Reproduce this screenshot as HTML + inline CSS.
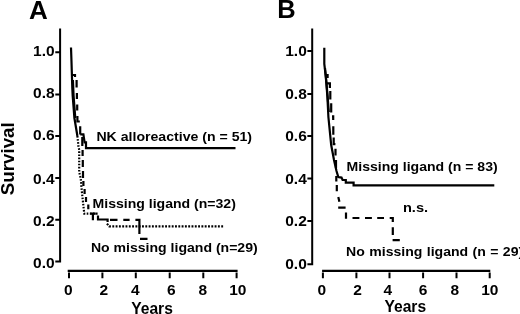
<!DOCTYPE html>
<html><head><meta charset="utf-8"><title>Survival</title>
<style>
html,body{margin:0;padding:0;background:#fff;}
svg{display:block;}
text{font-family:"Liberation Sans",Arial,sans-serif;font-weight:bold;fill:#000;}
.ax{stroke:#000;stroke-width:2;fill:none;stroke-linecap:butt;}
.cv{stroke:#000;stroke-width:2.2;fill:none;stroke-linejoin:miter;}
.tk{font-size:15.5px;}
.lg{font-size:13.8px;}
</style></head>
<body>
<svg width="520" height="314" viewBox="0 0 520 314">
<rect width="520" height="314" fill="#fff"/>

<!-- ===== Panel A ===== -->
<text x="28.9" y="18.8" font-size="26">A</text>
<text transform="translate(14.2,195.2) rotate(-90) scale(1.06,1)" font-size="17.7">Survival</text>
<!-- y axis -->
<path class="ax" d="M60.1 28.5V262.6M61.1 261.6H55.3M55.3 52.3H60M55.3 94.4H60M55.3 135.9H60M55.3 177.9H60M55.3 219.8H60"/>
<g class="tk" text-anchor="end">
<text x="54.6" y="55.9">1.0</text>
<text x="54.6" y="98.3">0.8</text>
<text x="54.6" y="140.2">0.6</text>
<text x="54.6" y="183.5">0.4</text>
<text x="54.6" y="225.7">0.2</text>
<text x="54.6" y="268">0.0</text>
</g>
<!-- x axis -->
<path class="ax" style="stroke-width:2.2" d="M67.7 270.8H237.6"/>
<path class="ax" d="M69 272.6V278.2M102.4 272.6V278.2M135.8 272.6V278.2M169.7 272.6V278.2M203.3 272.6V278.2M236.6 272.6V278.2"/>
<g class="tk" text-anchor="middle">
<text x="68.3" y="294.6">0</text>
<text x="103.9" y="294.6">2</text>
<text x="135.2" y="294.6">4</text>
<text x="171.3" y="294.6">6</text>
<text x="202.9" y="294.6">8</text>
<text x="237.8" y="294.6">10</text>
<text x="152" y="313.8" font-size="15.6">Years</text>
</g>
<!-- solid curve -->
<path class="cv" d="M71 47.5L71.5 62L72.3 88L72.7 96L74.4 118L77.4 136M80.2 134.4H83.4L84.6 142.4H86V148.1H235.5"/>
<path class="cv" d="M72.9 80L73.6 96L75.3 118"/>
<!-- dashed curve A -->
<path class="cv" d="M72 75H75V77M76.6 80V87.4M76.9 93V99M77.2 104.5V110.4M77.4 116V121.5H79.8M80.2 126.2V134.4M82.3 137V146M82.6 150V156M82.8 160V167M83 171V178M83.4 181V186M84.6 189V194M86 197V202M88.3 204.6V209.2M92.9 213.7V220.2M90.4 213.7H95.8M98 215.4V219.5H107.6V222M110 219.8H117.5M123.3 219.8H129.6M135.4 219.8H139.4V234M140 238.8H147.5"/>
<!-- dotted curve A -->
<path class="cv" stroke-dasharray="1.6 1.5" d="M77.4 136L78.4 146L79.2 150V172L80.8 179L81.8 191L83.2 204L84.3 213.7H99"/>
<path class="cv" stroke-dasharray="1.9 1.4" d="M107 223.6L109.2 226.3H224"/>
<g class="lg">
<text transform="translate(96.4,140.5) scale(1.07,1)" font-size="13.2">NK alloreactive (n = 51)</text>
<text transform="translate(92.6,208.2) scale(1.065,1)" font-size="13.2">Missing ligand (n=32)</text>
<text transform="translate(90.9,251.8) scale(1.067,1)" font-size="13.2">No missing ligand (n=29)</text>
</g>

<!-- ===== Panel B ===== -->
<text x="277.3" y="17.9" font-size="25.5">B</text>
<path class="ax" d="M312.2 28.5V265.3M313.2 264.3H307.4M307.4 51H312M307.4 93.9H312M307.4 135.9H312M307.4 178.4H312M307.4 221.1H312"/>
<g class="tk" text-anchor="end">
<text x="306.8" y="56.4">1.0</text>
<text x="306.8" y="98.5">0.8</text>
<text x="306.8" y="140.6">0.6</text>
<text x="306.8" y="183.7">0.4</text>
<text x="306.8" y="226.2">0.2</text>
<text x="306.8" y="268.6">0.0</text>
</g>
<path class="ax" style="stroke-width:2.2" d="M322.1 270.8H490.3"/>
<path class="ax" d="M322.9 272.6V278.2M356.4 272.6V278.2M389.5 272.6V278.2M423.1 272.6V278.2M456.5 272.6V278.2M489.7 272.6V278.2"/>
<g class="tk" text-anchor="middle">
<text x="321.8" y="294.8">0</text>
<text x="357.5" y="294.8">2</text>
<text x="387.9" y="294.8">4</text>
<text x="423" y="294.8">6</text>
<text x="454.8" y="294.8">8</text>
<text x="489.8" y="294.8">10</text>
<text x="405.3" y="311.7" font-size="15.6">Years</text>
</g>
<!-- solid B -->
<path class="cv" d="M324.3 47.8V64L325.6 75L326.4 84L327.4 97L328.4 117L331.2 145L334 160L336.5 171L338.3 177L341.5 177.6L342.6 180H345.8V182.7H353.6V185.4H494.3"/>
<path class="cv" d="M325 68L326.2 80L327.6 96L328.8 112"/>
<!-- dashed B -->
<path class="cv" d="M325.5 75H327.6V78M327 83.4H329.9V88M330.3 91V99.5M331.2 103.3V112.6M332 116.4H333.2V120M333.3 126.2V134.8M333.7 137.6V144.2H335.4M335.5 148.8V155.5M336 160V168M336.3 176V181.5M336.8 185V191.3M338.3 197L339.4 201.7M338.2 207.6H345.6M346 212.5V218.8M352.5 218H359.4M365 218H371.9M377.2 218H384M389.7 218H392.8V222M392.8 227.2V235M392.6 240.2H399.8"/>
<g class="lg">
<text transform="translate(346.6,171.4) scale(1.065,1)" font-size="13.2">Missing ligand (n = 83)</text>
<text transform="translate(402.9,211.9) scale(1.125,1)" font-size="13">n.s.</text>
<text transform="translate(346.1,255.8) scale(1.067,1)" font-size="13.2" word-spacing="0.46">No missing ligand (n = 29)</text>
</g>
</svg>
</body></html>
